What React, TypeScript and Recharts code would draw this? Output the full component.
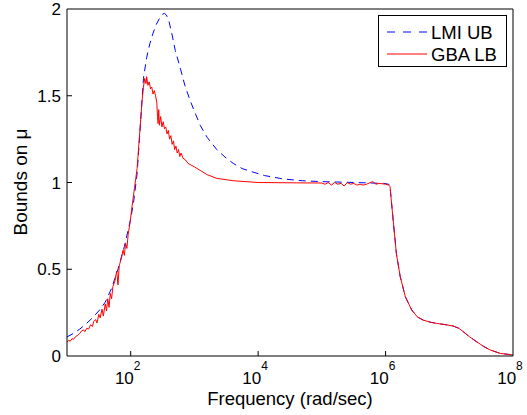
import React from 'react';
import { LineChart, Line, XAxis, YAxis } from 'recharts';

// log10 of frequency (rad/sec) and bound values
const ubLogFreq = [1.0, 1.1, 1.2, 1.3, 1.4, 1.5, 1.6, 1.7, 1.8, 1.9, 2.0, 2.05, 2.1, 2.15, 2.2, 2.25, 2.3, 2.35, 2.4, 2.45, 2.5, 2.53, 2.56, 2.6, 2.65, 2.7, 2.77, 2.85, 2.93, 3.0, 3.09, 3.2, 3.35, 3.5, 3.61, 3.75, 3.92, 4.1, 4.4, 4.7, 5.0, 5.5, 5.97, 6.05, 6.07, 6.12, 6.17, 6.23, 6.31, 6.41, 6.5, 6.59, 6.7, 6.8, 6.95, 7.06, 7.15, 7.22, 7.32, 7.43, 7.54, 7.64, 7.8, 8.0];
const ubBound = [0.11, 0.13, 0.155, 0.185, 0.22, 0.26, 0.31, 0.39, 0.5, 0.63, 0.79, 0.9, 1.05, 1.32, 1.6, 1.72, 1.8, 1.86, 1.91, 1.945, 1.97, 1.975, 1.965, 1.93, 1.85, 1.76, 1.67, 1.56, 1.475, 1.41, 1.33, 1.26, 1.19, 1.14, 1.11, 1.08, 1.06, 1.04, 1.02, 1.01, 1.005, 1.0, 0.995, 0.99, 0.976, 0.78, 0.59, 0.457, 0.342, 0.265, 0.225, 0.207, 0.195, 0.188, 0.18, 0.173, 0.16, 0.14, 0.11, 0.082, 0.055, 0.035, 0.015, 0.006];

const lbLogFreq = [1.0, 1.03, 1.05, 1.08, 1.1, 1.13, 1.17, 1.2, 1.23, 1.26, 1.28, 1.31, 1.34, 1.37, 1.4, 1.42, 1.45, 1.47, 1.5, 1.52, 1.55, 1.57, 1.6, 1.62, 1.64, 1.66, 1.68, 1.7, 1.72, 1.75, 1.78, 1.8, 1.82, 1.85, 1.88, 1.9, 1.92, 1.94, 1.96, 1.99, 2.02, 2.06, 2.1, 2.14, 2.18, 2.2, 2.22, 2.24, 2.25, 2.27, 2.29, 2.31, 2.33, 2.35, 2.37, 2.39, 2.41, 2.42, 2.43, 2.44, 2.45, 2.47, 2.49, 2.51, 2.53, 2.55, 2.57, 2.59, 2.61, 2.63, 2.65, 2.67, 2.69, 2.71, 2.73, 2.75, 2.77, 2.79, 2.82, 2.86, 2.9, 2.95, 3.0, 3.09, 3.2, 3.35, 3.61, 4.0, 4.6, 5.0, 5.05, 5.1, 5.15, 5.2, 5.25, 5.3, 5.35, 5.4, 5.45, 5.5, 5.55, 5.6, 5.65, 5.7, 5.8, 5.85, 5.9, 6.0, 6.05, 6.07, 6.12, 6.17, 6.23, 6.31, 6.41, 6.5, 6.59, 6.7, 6.8, 6.95, 7.06, 7.15, 7.22, 7.32, 7.43, 7.54, 7.64, 7.8, 8.0];
const lbBound = [0.082, 0.09, 0.085, 0.1, 0.095, 0.11, 0.12, 0.13, 0.145, 0.15, 0.14, 0.16, 0.155, 0.18, 0.17, 0.2, 0.21, 0.19, 0.24, 0.22, 0.27, 0.23, 0.3, 0.26, 0.33, 0.28, 0.36, 0.33, 0.4, 0.43, 0.49, 0.41, 0.52, 0.56, 0.61, 0.58, 0.65, 0.62, 0.7, 0.77, 0.86, 0.97, 1.08, 1.28, 1.48, 1.55, 1.6, 1.57, 1.61, 1.56, 1.58, 1.54, 1.55, 1.51, 1.53, 1.5, 1.46, 1.38, 1.34, 1.42, 1.33, 1.38, 1.32, 1.35, 1.31, 1.32, 1.28, 1.3, 1.25, 1.27, 1.22, 1.24, 1.19, 1.21, 1.17, 1.19, 1.15, 1.17, 1.14, 1.13, 1.11, 1.1, 1.09, 1.07, 1.045, 1.024, 1.01, 1.0, 0.998, 0.997, 0.99, 1.0, 0.985, 1.0, 0.99, 0.995, 0.98, 1.0, 0.99, 0.995, 0.985, 0.99, 0.985, 0.99, 1.005, 0.99, 0.995, 0.99, 0.985, 0.976, 0.78, 0.59, 0.457, 0.342, 0.265, 0.225, 0.207, 0.195, 0.188, 0.18, 0.173, 0.16, 0.14, 0.11, 0.082, 0.055, 0.035, 0.015, 0.006];

const xTickExps = [2, 4, 6, 8];
const yTicks = [0, 0.5, 1, 1.5, 2];
const seriesNames = ['LMI UB', 'GBA LB'];
const xLabel = 'Frequency (rad/sec)';
const yLabel = 'Bounds on \u03bc';

const ubData = ubLogFreq.map((x, i) => ({ x, y: ubBound[i] }));
const lbData = lbLogFreq.map((x, i) => ({ x, y: lbBound[i] }));

const FONT = '"Liberation Sans", Arial, Helvetica, sans-serif';

const BottomTick = (props: any) => {
  const { x, y, payload } = props;
  return (
    <g>
      {payload.value < 8 && <line x1={x} y1={y} x2={x} y2={y - 5} stroke="#000" strokeWidth={1} />}
      <text x={x - 3} y={y + 28} textAnchor="middle" fontFamily={FONT} fontSize={17} fill="#000">
        <tspan>10</tspan>
        <tspan dy={-14} fontSize={12}>{payload.value}</tspan>
      </text>
    </g>
  );
};

const TopTick = (props: any) => {
  const { x, y } = props;
  return <line x1={x} y1={y} x2={x} y2={y + 5} stroke="#000" strokeWidth={1} />;
};

const LeftTick = (props: any) => {
  const { x, y, payload } = props;
  return (
    <g>
      {payload.value > 0 && payload.value < 2 && <line x1={x} y1={y} x2={x + 5} y2={y} stroke="#000" strokeWidth={1} />}
      <text x={x - 6} y={y + 6} textAnchor="end" fontFamily={FONT} fontSize={17} fill="#000">{String(payload.value)}</text>
    </g>
  );
};

const RightTick = (props: any) => {
  const { x, y, payload } = props;
  if (payload.value <= 0 || payload.value >= 2) return <g />;
  return <line x1={x} y1={y} x2={x - 5} y2={y} stroke="#000" strokeWidth={1} />;
};

export default function App() {
  return (
    <div style={{ position: 'absolute', left: 0, top: 0, width: 527, height: 415, background: '#fff', fontFamily: FONT }}>
      <LineChart width={527} height={415} margin={{ top: 4, right: 9, bottom: 19, left: 17 }}>
        <XAxis
          xAxisId="b"
          type="number"
          dataKey="x"
          domain={[1, 8]}
          ticks={xTickExps}
          height={40}
          tickSize={0}
          tickMargin={0}
          tickLine={false}
          axisLine={{ stroke: '#000', strokeWidth: 1 }}
          tick={<BottomTick />}
          interval={0}
          label={{
            content: () => (
              <text x={290} y={405} textAnchor="middle" fontFamily={FONT} fontSize={18.5} fill="#000">{xLabel}</text>
            ),
          }}
        />
        <XAxis
          xAxisId="t"
          orientation="top"
          type="number"
          dataKey="x"
          domain={[1, 8]}
          ticks={[2, 4, 6]}
          height={5}
          tickSize={0}
          tickMargin={0}
          tickLine={false}
          axisLine={{ stroke: '#000', strokeWidth: 1 }}
          tick={<TopTick />}
          interval={0}
        />
        <YAxis
          yAxisId="l"
          type="number"
          domain={[0, 2]}
          ticks={yTicks}
          width={50}
          tickSize={0}
          tickMargin={0}
          tickLine={false}
          axisLine={{ stroke: '#000', strokeWidth: 1 }}
          tick={<LeftTick />}
          interval={0}
          label={{
            content: () => (
              <text x={27} y={182} transform="rotate(-90 27 182)" textAnchor="middle" fontFamily={FONT} fontSize={19} fill="#000">{yLabel}</text>
            ),
          }}
        />
        <YAxis
          yAxisId="r"
          orientation="right"
          type="number"
          domain={[0, 2]}
          ticks={yTicks}
          width={5}
          tickSize={0}
          tickMargin={0}
          tickLine={false}
          axisLine={{ stroke: '#000', strokeWidth: 1 }}
          tick={<RightTick />}
          interval={0}
        />
        <Line
          xAxisId="b"
          yAxisId="l"
          data={ubData}
          dataKey="y"
          name={seriesNames[0]}
          type="linear"
          stroke="#0000ff"
          strokeWidth={1}
          strokeDasharray="7 5"
          dot={false}
          activeDot={false}
          isAnimationActive={false}
        />
        <Line
          xAxisId="b"
          yAxisId="l"
          data={lbData}
          dataKey="y"
          name={seriesNames[1]}
          type="linear"
          stroke="#ff0000"
          strokeWidth={1}
          dot={false}
          activeDot={false}
          isAnimationActive={false}
        />
      </LineChart>
      <div
        style={{
          position: 'absolute',
          left: 378,
          top: 15,
          width: 127,
          height: 50,
          border: '1px solid #000',
          background: '#fff',
          fontFamily: FONT,
          fontSize: 18,
          color: '#000',
        }}
      >
        <svg width={127} height={50} style={{ position: 'absolute', left: 0, top: 0 }}>
          <line x1={8} y1={16} x2={48} y2={16} stroke="#0000ff" strokeWidth={1} strokeDasharray="8 8" />
          <line x1={8} y1={38} x2={48} y2={38} stroke="#ff0000" strokeWidth={1} />
          <text x={52} y={23} fontFamily={FONT} fontSize={18.5} fill="#000">{seriesNames[0]}</text>
          <text x={52} y={45} fontFamily={FONT} fontSize={18.5} fill="#000">{seriesNames[1]}</text>
        </svg>
      </div>
    </div>
  );
}
